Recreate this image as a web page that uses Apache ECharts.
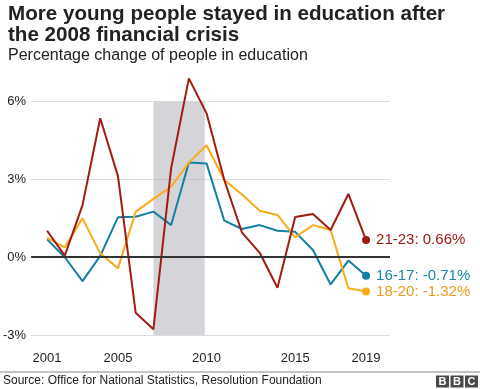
<!DOCTYPE html>
<html>
<head>
<meta charset="utf-8">
<script src="https://cdn.jsdelivr.net/npm/echarts@6/dist/echarts.min.js"></script>
<style>
  html, body { margin: 0; padding: 0; background: #fff; }
  #chart { width: 480px; height: 389px; }
</style>
</head>
<body>
<div id="chart"></div>
<script>
// ---- Data ----
const years = [2001, 2002, 2003, 2004, 2005, 2006, 2007, 2008, 2009, 2010,
               2011, 2012, 2013, 2014, 2015, 2016, 2017, 2018, 2019];
const age16_17 = [0.69, 0.0, -0.92, 0.05, 1.54, 1.56, 1.76, 1.24, 3.65, 3.62,
                  1.41, 1.09, 1.24, 1.02, 0.98, 0.28, -1.05, -0.13, -0.71];
const age18_20 = [0.75, 0.38, 1.5, 0.15, -0.43, 1.75, 2.25, 2.72, 3.65, 4.32,
                  2.98, 2.42, 1.79, 1.63, 0.77, 1.24, 1.05, -1.2, -1.32];
const age21_23 = [1.02, 0.06, 2.01, 5.36, 3.13, -2.14, -2.78, 3.43, 6.9, 5.55,
                  2.98, 0.95, 0.17, -1.18, 1.55, 1.67, 1.05, 2.44, 0.66];
const xTickLabels = [2001, 2005, 2010, 2015, 2019];
const recession = [2007, 2009.9];
const seriesNames = ['16-17', '18-20', '21-23'];

const FONT = '"Liberation Sans", Arial, Helvetica, sans-serif';

function buildData(vals, color, textColor, name) {
  return vals.map((v, i) => {
    if (i === vals.length - 1) {
      return {
        value: [years[i], v],
        symbol: 'circle',
        symbolSize: 8,
        itemStyle: { color: color },
        label: {
          show: true,
          position: 'right',
          distance: 6,
          formatter: name + ': ' + v.toFixed(2) + '%',
          color: textColor,
          fontSize: 15,
          fontFamily: FONT
        }
      };
    }
    return { value: [years[i], v], symbol: 'none' };
  });
}

const chart = echarts.init(document.getElementById('chart'), null, { renderer: 'canvas' });

const option = {
  backgroundColor: '#ffffff',
  animation: false,
  title: [
    {
      text: 'More young people stayed in education after\nthe 2008 financial crisis',
      left: 3, top: -1,
      textStyle: { fontFamily: FONT, fontSize: 20.6, fontWeight: 'bold', color: '#222222', lineHeight: 21 }
    },
    {
      text: 'Percentage change of people in education',
      left: 3, top: 43,
      textStyle: { fontFamily: FONT, fontSize: 16, fontWeight: 'normal', color: '#222222' }
    }
  ],
  grid: { left: 29, right: 90, top: 101.7, bottom: 54, containLabel: false },
  xAxis: {
    type: 'value',
    min: 2000.1,
    max: 2020.35,
    axisLine: { show: false },
    axisTick: { show: false },
    splitLine: { show: false },
    axisLabel: {
      customValues: xTickLabels,
      formatter: v => String(v),
      fontFamily: FONT, fontSize: 13, color: '#222222', margin: 17
    }
  },
  yAxis: {
    type: 'value',
    min: -3, max: 6, interval: 3,
    axisLine: { show: false },
    axisTick: { show: false },
    splitLine: { show: true, lineStyle: { color: '#dcdcdc', width: 1 } },
    axisLabel: {
      formatter: '{value}%',
      fontFamily: FONT, fontSize: 13, color: '#222222', margin: 5
    }
  },
  series: [
    {
      name: seriesNames[0],
      type: 'line',
      clip: false,
      data: buildData(age16_17, '#1380A1', '#1a85a6', seriesNames[0]),
      lineStyle: { color: '#1380A1', width: 2 },
      itemStyle: { color: '#1380A1' },
      markArea: {
        silent: true,
        itemStyle: { color: 'rgba(175,175,182,0.52)' },
        data: [[{ xAxis: recession[0], yAxis: -3 }, { xAxis: recession[1], yAxis: 6 }]]
      },
      markLine: {
        silent: true,
        symbol: 'none',
        label: { show: false },
        lineStyle: { color: '#333333', width: 2, type: 'solid' },
        data: [{ yAxis: 0 }]
      }
    },
    {
      name: seriesNames[1],
      type: 'line',
      clip: false,
      data: buildData(age18_20, '#FAAB18', '#ec9a1e', seriesNames[1]),
      lineStyle: { color: '#FAAB18', width: 2 },
      itemStyle: { color: '#FAAB18' }
    },
    {
      name: seriesNames[2],
      type: 'line',
      clip: false,
      data: buildData(age21_23, '#a01b12', '#a01b12', seriesNames[2]),
      lineStyle: { color: '#a01b12', width: 2 },
      itemStyle: { color: '#a01b12' }
    }
  ],
  graphic: [
    {
      type: 'line',
      shape: { x1: 0, y1: 372, x2: 480, y2: 372 },
      style: { stroke: '#c4c4c4', lineWidth: 2 }
    },
    {
      type: 'text',
      left: 3, top: 375,
      style: {
        text: 'Source: Office for National Statistics, Resolution Foundation',
        fontFamily: FONT, fontSize: 12, fill: '#222222'
      }
    },
    { type: 'rect', shape: { x: 436, y: 375.5, width: 13, height: 12 }, style: { fill: '#4a4a4a' } },
    { type: 'rect', shape: { x: 450.5, y: 375.5, width: 13, height: 12 }, style: { fill: '#4a4a4a' } },
    { type: 'rect', shape: { x: 465, y: 375.5, width: 13, height: 12 }, style: { fill: '#4a4a4a' } },
    { type: 'text', x: 442.5, y: 381.7, style: { text: 'B', fontFamily: FONT, fontSize: 11, fontWeight: 'bold', fill: '#ffffff', align: 'center', verticalAlign: 'middle' } },
    { type: 'text', x: 457, y: 381.7, style: { text: 'B', fontFamily: FONT, fontSize: 11, fontWeight: 'bold', fill: '#ffffff', align: 'center', verticalAlign: 'middle' } },
    { type: 'text', x: 471.5, y: 381.7, style: { text: 'C', fontFamily: FONT, fontSize: 11, fontWeight: 'bold', fill: '#ffffff', align: 'center', verticalAlign: 'middle' } }
  ]
};

chart.setOption(option);
</script>
</body>
</html>
